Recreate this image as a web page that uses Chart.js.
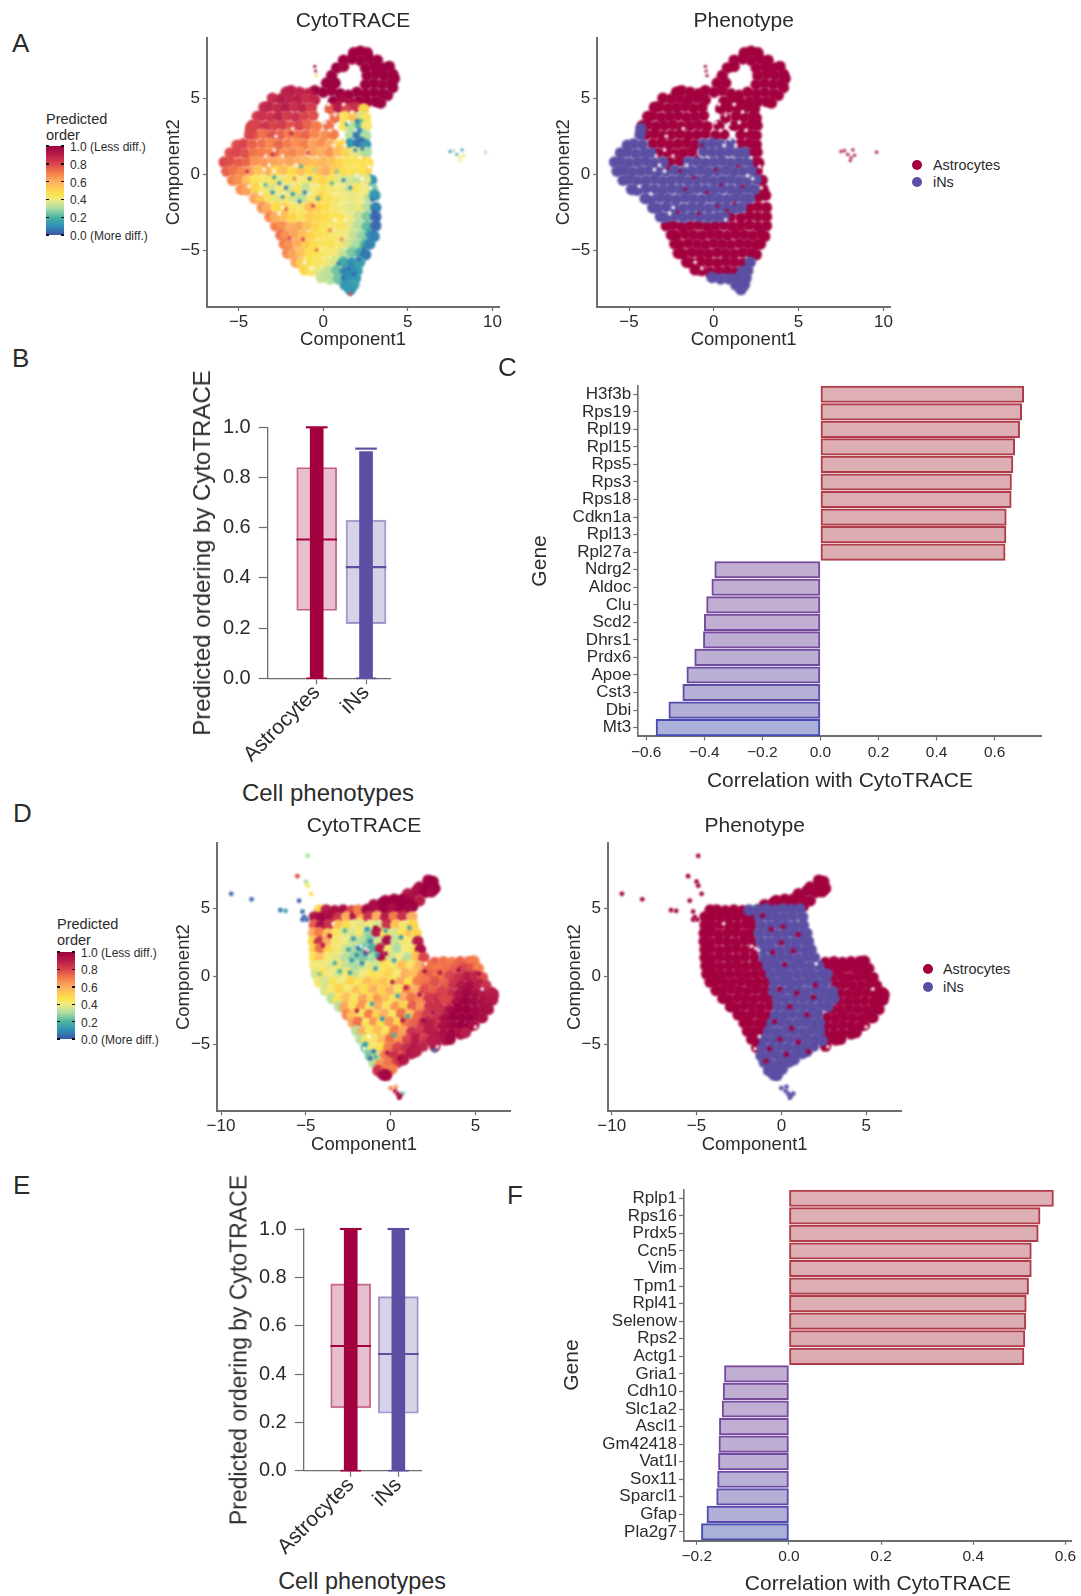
<!DOCTYPE html>
<html lang="en">
<head>
<meta charset="UTF-8" />
<title>CytoTRACE panels</title>
<script src="https://cdn.jsdelivr.net/npm/chart.js"></script>
<style>
  html, body { margin: 0; background: #fff; }
  #page { position: relative; width: 1081px; height: 1596px; overflow: hidden; font-family: "Liberation Sans", Arial, sans-serif; color: #2b2b2b; }
  #page canvas { position: absolute; filter: blur(0.45px); }
  .txt { position: absolute; white-space: nowrap; line-height: 1; }
  .bar { position: absolute; width: 18px; background: linear-gradient(to top, #3f55a8 0%, #2f8fb5 10%, #4cb3a0 20%, #abdda4 30%, #f2ea80 40%, #fde04a 47%, #fdae61 60%, #f57d4a 70%, #d9444d 80%, #b81d4a 90%, #9e0142 100%); }
  .dash { position: absolute; width: 3px; height: 1.5px; background: #111; }
  .dot { position: absolute; width: 10px; height: 10px; border-radius: 50%; }
</style>
</head>
<body>
<div id="page"></div>
<script>
// ---- data ----
const phenotypes = ["Astrocytes", "iNs"];
const legendOrderTicks = ["1.0 (Less diff.)", "0.8", "0.6", "0.4", "0.2", "0.0 (More diff.)"];
const umapTicksA_x = [-5, 0, 5, 10];
const umapTicksD_x = [-10, -5, 0, 5];
const umapTicks_y = [-5, 0, 5];
const boxTicks_y = [0, 0.2, 0.4, 0.6, 0.8, 1];
const corrTicksC = [-0.6, -0.4, -0.2, 0, 0.2, 0.4, 0.6];
const corrTicksF = [-0.2, 0, 0.2, 0.4, 0.6];

// panel B / E boxes: [Astrocytes, iNs]
const boxB_q1 = [0.27, 0.218];
const boxB_median = [0.553, 0.443];
const boxB_q3 = [0.84, 0.63];
const boxB_top = [1, 0.915];
const boxE_q1 = [0.26, 0.238];
const boxE_median = [0.516, 0.483];
const boxE_q3 = [0.773, 0.72];
const boxE_top = [1, 1];

// panel C / F genes
const genesC = ["H3f3b","Rps19","Rpl19","Rpl15","Rps5","Rps3","Rps18","Cdkn1a","Rpl13","Rpl27a","Ndrg2","Aldoc","Clu","Scd2","Dhrs1","Prdx6","Apoe","Cst3","Dbi","Mt3"];
const corrC = [0.70,0.693,0.686,0.669,0.663,0.658,0.657,0.64,0.639,0.636,-0.364,-0.374,-0.392,-0.40,-0.403,-0.433,-0.46,-0.474,-0.522,-0.566];
const genesF = ["Rplp1","Rps16","Prdx5","Ccn5","Vim","Tpm1","Rpl41","Selenow","Rps2","Actg1","Gria1","Cdh10","Slc1a2","Ascl1","Gm42418","Vat1l","Sox11","Sparcl1","Gfap","Pla2g7"];
const corrF = [0.574,0.545,0.541,0.526,0.526,0.52,0.515,0.514,0.512,0.51,-0.14,-0.143,-0.145,-0.151,-0.152,-0.153,-0.155,-0.157,-0.178,-0.19];

// cells as [component1, component2, predicted order], thinned by eye from the dense clouds
const cellsA_astro = [
[1.8,8,1],[2.2,8.1,1],[2.6,8,1],[1.2,7.5,1],[1.7,7.6,1],[2.2,7.5,1],[2.7,7.6,1],[3.2,7.5,1],[.8,7,1],[1.2,7.1,.98],[2.5,7,1],[3,7.1,1],[3.5,7,1],[3.9,7.1,1],
[.5,6.5,1],[2.6,6.5,1],[3.1,6.6,1],[3.6,6.5,1],[4.1,6.6,1],[4.2,6.3,1],[.2,6,1],[.7,6,1],[2.5,5.9,1],[3,6,1],[3.5,5.9,1],[4,6,1],[4.1,5.7,1],
[-.5,5.5,.98],[0,5.4,1],[.5,5.5,1],[1,5.3,1],[1.5,5.2,1],[2,5.4,1],[2.5,5.3,1],[3,5.4,1],[3.5,5.3,1],[3.8,5.2,1],
[-2.2,5.4,.88],[-1.9,5.5,.9],[-1.4,5.4,.88],[-.9,5.3,.9],
[-3,5,.86],[-2.5,4.95,.9],[-2,5,.88],[-1.5,4.9,.9],[-1,5,.85],[-.5,4.9,.88],[.6,4.8,1],[1.1,4.9,.97],[1.6,4.7,.95],[2.1,4.8,1],[2.6,4.8,1],[3.1,4.8,1],[3.4,4.7,1],
[-3.5,4.4,.85],[-3.2,4.45,.88],[-2.7,4.35,.86],[-2.2,4.4,.9],[-1.7,4.45,.85],[-1.2,4.35,.88],[-.7,4.4,.82],[.4,4.3,.75],[.9,4.4,.9],[1.4,4.3,.8],[1.9,4.4,.85],[2.4,4.3,.5],
[-3.9,3.8,.82],[-3.6,3.85,.85],[-3.1,3.75,.84],[-2.6,3.8,.88],[-2.1,3.85,.82],[-1.6,3.75,.85],[-1.1,3.8,.8],[-.6,3.85,.78],[.7,3.7,.72],[1.3,3.8,.45],[1.8,3.75,.55],[2.3,3.8,.35],[2.5,3.7,.45],
[-4.2,3.2,.82],[-3.9,3.25,.8],[-3.4,3.15,.84],[-2.9,3.2,.8],[-2.4,3.25,.82],[-1.9,3.15,.78],[-1.4,3.2,.8],[-.9,3.25,.75],[-.4,3.15,.7],[.3,3.2,.72],[1.2,3.2,.45],[1.7,3.15,.32],[2.2,3.25,.2],[2.55,3.2,.42],
[-4,2.6,.75],[-3.5,2.65,.72],[-3,2.55,.78],[-2.5,2.6,.75],[-2,2.65,.7],[-1.5,2.55,.72],[-1,2.6,.74],[-.5,2.65,.68],[.1,2.55,.66],[.6,2.6,.7],[1.6,2.6,.32],[2.1,2.65,.08],[2.5,2.55,.3],
[-3.6,2,.72],[-3.1,2.05,.68],[-2.6,1.95,.74],[-2.1,2,.7],[-1.6,2.05,.66],[-1.1,1.95,.7],[1.6,2,.12],[2.1,2.05,.05],[2.5,1.95,.12],
[-3.3,1.4,.68],[-2.8,1.45,.72],[-2.3,1.35,.66],[-1.8,1.4,.68],[-1.3,1.45,.64],[2.2,1.4,.35],[2.55,1.45,.3],
[-2.6,.8,.6],[-2,.85,.62],[2.4,.8,.5],[2.65,.75,.45],[2.55,.2,.5],[2.85,-.4,.12],[2.9,-1,.25],
[2.6,-1.5,.32],[3.05,-1.4,.12],[2.1,-2.2,.42],[2.6,-2.15,.32],[3.1,-2.2,.08],
[1,-2.8,.45],[1.6,-2.85,.4],[2.1,-2.75,.34],[2.6,-2.8,.25],[3.1,-2.8,.04],
[-2.8,-3.4,.7],[-2.4,-3.35,.66],[-1.9,-3.45,.6],[-1.4,-3.4,.62],[-.9,-3.35,.55],[-.4,-3.45,.5],[.1,-3.4,.45],[.6,-3.35,.42],[1.1,-3.45,.45],[1.6,-3.4,.38],[2.1,-3.35,.32],[2.6,-3.45,.22],[3.1,-3.4,.04],
[-2.5,-4,.72],[-2.2,-4.05,.66],[-1.7,-3.95,.62],[-1.2,-4,.56],[-.7,-4.05,.5],[-.2,-3.95,.46],[.3,-4,.44],[.8,-4.05,.42],[1.3,-3.95,.4],[1.8,-4,.34],[2.3,-4.05,.28],[2.8,-3.95,.15],[3,-4.1,.08],
[-2.3,-4.6,.7],[-2,-4.65,.66],[-1.5,-4.55,.6],[-1,-4.6,.52],[-.5,-4.65,.48],[0,-4.55,.44],[.5,-4.6,.46],[1,-4.65,.42],[1.5,-4.55,.36],[2,-4.6,.3],[2.5,-4.65,.2],[2.75,-4.6,.08],
[-2.1,-5.2,.68],[-1.8,-5.25,.62],[-1.3,-5.15,.55],[-.8,-5.2,.48],[-.3,-5.25,.45],[.2,-5.15,.43],[.7,-5.2,.42],[1.2,-5.25,.34],[1.7,-5.15,.25],[2.2,-5.2,.18],[2.5,-5.3,.06],
[-1.6,-5.8,.62],[-1.3,-5.85,.52],[-.8,-5.75,.46],[-.3,-5.8,.44],[.2,-5.85,.42],[.7,-5.75,.36],[1.2,-5.8,.18],[1.7,-5.85,.1],
[-1.1,-6.3,.5],[-.7,-6.35,.44],[-.2,-6.45,.38],[.3,-6.4,.32],[.8,-6.35,.24],[1.3,-6.45,.08]
];
const cellsA_ins = [
[-4.3,3,.8],[-4.35,2.6,.8],[-5.1,1.9,.78],[-4.7,2,.8],[-4.2,1.95,.75],
[-.6,2,.62],[-.1,2.05,.66],[.4,1.95,.6],[1,2,.5],
[-5.5,1.4,.78],[-5.1,1.45,.8],[-4.6,1.35,.78],[-4.1,1.4,.72],[-3.7,1.4,.7],[-.6,1.5,.62],[-.1,1.45,.6],[.4,1.4,.65],[.9,1.5,.55],[1.4,1.4,.5],[1.8,1.45,.38],
[-5.85,.8,.8],[-5.5,.85,.78],[-5,.75,.76],[-4.5,.8,.74],[-4,.85,.65],[-3.5,.75,.64],[-3,.8,.62],[-1.5,.8,.6],[-1,.85,.58],[-.5,.75,.55],[0,.8,.58],[.5,.85,.55],[1,.75,.5],[1.5,.8,.45],[2,.85,.45],
[-5.7,.2,.75],[-5.3,.25,.72],[-4.8,.15,.68],[-4.3,.2,.62],[-3.8,.25,.55],[-3.3,.15,.6],[-2.8,.2,.5],[-2.3,.25,.55],[-1.8,.15,.48],[-1.3,.2,.55],[-.8,.25,.5],[-.3,.15,.55],[.2,.2,.6],[.7,.25,.52],[1.2,.15,.48],[1.7,.2,.45],[2.2,.25,.45],
[-5.35,-.4,.7],[-5,-.35,.66],[-4.5,-.45,.55],[-4,-.4,.45],[-3.5,-.35,.42],[-3,-.45,.44],[-2.5,-.4,.38],[-2,-.35,.44],[-1.5,-.45,.4],[-1,-.4,.42],[-.5,-.35,.45],[0,-.45,.5],[.5,-.4,.45],[1,-.35,.38],[1.5,-.45,.36],[2,-.4,.34],[2.5,-.35,.38],
[-4.85,-1,.66],[-4.5,-1.05,.62],[-4,-.95,.5],[-3.5,-1,.42],[-3,-1.05,.36],[-2.5,-.95,.4],[-2,-1,.36],[-1.5,-1.05,.45],[-1,-.95,.34],[-.5,-1,.4],[0,-1.05,.45],[.5,-.95,.42],[1,-1,.4],[1.5,-1.05,.36],[2,-.95,.45],[2.4,-1,.4],
[-4.05,-1.6,.62],[-3.7,-1.65,.55],[-3.2,-1.55,.44],[-2.7,-1.6,.38],[-2.2,-1.65,.42],[-1.7,-1.55,.36],[-1.2,-1.6,.32],[-.7,-1.65,.42],[-.2,-1.55,.5],[.3,-1.6,.45],[.8,-1.65,.42],[1.3,-1.55,.4],[1.8,-1.6,.38],[2.1,-1.6,.4],
[-3.6,-2.2,.66],[-3.3,-2.25,.6],[-2.8,-2.15,.48],[-2.3,-2.2,.5],[-1.8,-2.25,.44],[-1.3,-2.15,.42],[-.8,-2.2,.55],[-.3,-2.25,.5],[.2,-2.15,.48],[.7,-2.2,.42],[1.2,-2.25,.4],[1.6,-2.2,.38],
[-3.15,-2.8,.68],[-2.8,-2.85,.6],[-2.3,-2.75,.55],[-1.8,-2.85,.5],[-1.3,-2.75,.45],[-.8,-2.8,.52],[-.3,-2.85,.5],[.2,-2.8,.48],[.6,-2.8,.45],
[-.1,-6.8,.34],[.4,-6.9,.32],[.9,-6.9,.24],[1.4,-6.85,.1],[1.9,-6.85,.12],[2.15,-5.8,.14],[2,-6.35,.14],[1.7,-6.4,.1],[1.3,-7.3,.12],[1.8,-7.3,.15],[1.6,-7.6,.12]
];
const outliersA = [[7.5,1.5,.1],[7.7,1.55,.3],[7.9,1.3,.2],[8.1,1.1,.45],[8.2,1.6,.15],[8.3,1.25,.5],[8.05,.9,.4],[9.6,1.45,.3],[-.5,7.1,1],[-.45,6.8,1],[-.4,6.5,.5]];
const specksA = [[-2.3,.8],[-1,1.2],[-.4,-1.2],[.4,-.7],[1.2,-1.9],[.8,-2.4],[-2,.2],[-1.2,-.2],[.1,.3],[1.4,.5],[-1.7,-1],[-.9,-2.6],[.2,-2.1],[1.7,-.8],[-2.7,.4],[-1.5,1.6],[-.7,1.9],[-2.1,-2.5]];
// fine coloured flecks on top of the CytoTRACE clouds
const flecksA = [[-2.2,-.9,.04],[-1.8,-1.3,.08],[-1.1,-1.2,.05],[-.8,-.3,.05],[-2.6,-.6,.1],[-1.4,-1.8,.06],[-3,-1.2,.1],[-.3,-1.6,.15],[-3.4,-.7,.2],[-1.7,-.3,.7],[-.6,-2.1,.8],[-2.2,-2.3,.75],[.5,-.6,.2],[1.2,-.4,.08],[1.6,-.9,.1],[1.9,1.6,.08],[2.3,2.3,.02],[1.9,2.5,.05],[2.3,1.7,.03],[1.4,3.3,.1],[2,3.5,.05],[1.5,-6.2,.03],[1.8,-6.6,.03],[1.2,-6.8,.04],[.9,-5.9,.05],[2.1,-5.6,.04],[2.4,-4.9,.03],[3,-2.5,.02],[3.2,-3,.02],[3,-3.7,.03],[2.9,-1.7,.03],[-1.2,-4.3,.8],[-2,-4.2,.78],[-.4,-5,.72],[.4,-3.7,.7],[1.1,-4.3,.68],[-3,1.3,.85],[-4.5,.2,.88],[-1.9,2.7,.88],[-.9,1.4,.8],[1.6,-7.9,.8],[-2.9,-.2,.15],[-2.4,-1.5,.12],[-1.3,.5,.2],[-.5,.3,.3],[.8,.2,.25]];
const gapsA = [[0,4.7],[-.1,4.3],[.2,3.9],[-.2,3.6],[.9,3.3],[.4,2.9],[1.1,2.7],[.95,2.3],[1.3,1.9],[-2.9,1.6],[-3.4,1.2],[-3.2,.6],[-3.5,.3],[-2.9,.2],[-2.4,1.2],[-4.4,-.8],[-3.7,-1.3],[-2.4,-2.2],[-2.6,-2.6],[-1.6,.6],[2.3,-.3],[2.8,-.9],[2.7,.5],[2,-.1],[-1.8,3],[-2.8,2.5],[-1.1,-5.8],[-.7,-6.2],[.7,-3],[1.5,3.4],[1.9,2.9],[.7,3.9],[.3,4.6],[.6,1.9],[1.7,4.1],[2.2,1.1],[1.2,4.6],[.1,3.4]];

const cellsD_astro = [
[2.2,7.1,.98],[2.5,7,1],[1.7,6.6,.95],[2.2,6.75,1],[2.6,6.5,1],[1,6.1,.9],[1.5,6.3,.95],[2,6.2,1],[2.4,6.25,.98],[-.3,5.6,.95],[.2,5.7,1],[.7,5.7,1],[1.2,5.75,.95],[1.7,5.6,.9],[-1,5.3,.95],[-.5,5.4,1],[0,5.35,1],[.5,5.4,1],[1,5.35,1],[1.3,5.2,1],
[-4.2,4.9,.5],[-3.8,4.9,.9],[-3.3,4.85,.95],[-2.8,4.9,.95],[-2.3,4.85,.8],
[-4.5,4.4,.92],[-4.1,4.35,.98],[-3.6,4.45,.95],[-3.1,4.35,.85],[-2.6,4.4,.6],[-2.1,4.45,.92],[-1.7,4.35,.55],
[-4.5,3.8,.75],[-4.1,3.75,.95],[-3.6,3.85,.85],[-3.1,3.8,.55],[-2.6,3.75,.48],[-2.1,3.85,.4],[-1.7,3.8,.38],
[-4.55,3.2,.6],[-4.2,3.25,.7],[-3.7,3.15,.55],[-3.2,3.2,.45],[-2.7,3.25,.38],[-2.2,3.15,.36],[-1.8,3.2,.42],
[-4.55,2.6,.5],[-4.2,2.55,.85],[-3.7,2.65,.6],[-3.2,2.6,.42],[-2.7,2.55,.4],[-2.2,2.65,.34],[-1.7,2.6,.32],
[-4.5,2,.5],[-4.15,2.05,.72],[-3.65,1.95,.5],[-3.15,2,.42],[-2.65,2.05,.36],[-2.15,1.95,.3],[-1.6,2,.22],
[-4.5,1.4,.45],[-4.15,1.35,.55],[-3.65,1.45,.42],[-3.15,1.4,.38],[-2.65,1.35,.32],[-2.15,1.45,.28],[-1.6,1.4,.25],
[-4.45,.8,.42],[-4.1,.85,.4],[-3.6,.75,.38],[-3.1,.8,.42],[-2.6,.85,.34],[-2.1,.75,.3],[-1.6,.8,.32],[-1.2,.85,.38],
[-4.4,.2,.36],[-4.05,.25,.45],[-3.55,.15,.4],[-3.05,.2,.36],[-2.55,.25,.42],[-2.05,.15,.34],[-1.55,.2,.4],[-1.05,.25,.45],
[-4.2,-.4,.42],[-3.85,-.35,.36],[-3.35,-.45,.45],[-2.85,-.4,.4],[-2.35,-.35,.5],[-1.85,-.45,.44],[-1.35,-.4,.55],[-.85,-.35,.5],
[-3.85,-1,.36],[-3.5,-1.05,.42],[-3,-.95,.5],[-2.5,-1,.42],[-2,-1.05,.55],[-1.5,-.95,.46],[-1,-1,.6],
[-3.45,-1.6,.32],[-3.1,-1.65,.45],[-2.6,-1.55,.55],[-2.1,-1.6,.44],[-1.6,-1.65,.62],[-1.1,-1.55,.5],[-.7,-1.6,.65],
[-3,-2.2,.32],[-2.7,-2.25,.62],[-2.2,-2.15,.46],[-1.7,-2.2,.65],[-1.2,-2.25,.44],[-.7,-2.15,.6],
[-2.55,-2.8,.68],[-2.25,-2.85,.55],[-1.75,-2.75,.44],[-1.25,-2.8,.7],[-.8,-2.85,.5],
[-2.2,-3.4,.62],[-1.9,-3.35,.72],[-1.4,-3.45,.44],[-.95,-3.4,.65],
[-2,-4,.32],[-1.65,-4.05,.6],[-1.2,-3.95,.44],[-1.75,-4.6,.32],[-1.4,-4.65,.44],[-1.45,-5.2,.24],
[2.6,1.05,.75],[3.1,1.1,.72],[3.6,1.05,.7],[4.1,1.1,.75],[4.6,1.1,.72],[4.9,1.15,.7],
[2.8,.6,.7],[3.3,.55,.72],[3.8,.65,.75],[4.3,.6,.8],[4.8,.55,.78],[5.15,.6,.7],
[3,0,.72],[3.5,.05,.8],[4,-.05,.85],[4.5,0,.9],[5,.05,.88],[5.4,-.05,.78],
[3.2,-.6,.75],[3.7,-.55,.85],[4.2,-.65,.92],[4.7,-.6,.95],[5.2,-.55,.9],[5.6,-.65,.85],
[3.5,-1.2,.85],[4,-1.25,.92],[4.5,-1.15,.98],[5,-1.2,.95],[5.5,-1.25,.92],[5.9,-1.15,.88],[6.05,-1.3,.9],
[3.4,-1.8,.8],[3.9,-1.85,.95],[4.4,-1.75,1],[4.9,-1.8,.98],[5.4,-1.85,.95],[5.8,-1.75,.92],[6,-1.7,.92],
[3,-2.4,.85],[3.5,-2.45,.95],[4,-2.35,1],[4.5,-2.4,1],[5,-2.45,.98],[5.5,-2.35,.95],[5.75,-2.4,.95],
[2.7,-3,.85],[3.2,-3.05,.95],[3.7,-2.95,1],[4.2,-3,1],[4.7,-3.05,1],[5.2,-2.95,.98],[5.4,-3,.95],
[2.6,-3.6,.85],[3.1,-3.65,.95],[3.6,-3.55,.98],[4.1,-3.6,1],[4.6,-3.65,1],[4.9,-3.55,.95],
[2.6,-4.2,.9],[3.1,-4.25,.95],[3.6,-4.15,.98],[4.1,-4.2,.95],[4.4,-4.1,.9],
[2.7,-4.7,.9],[3.2,-4.65,.92],[3.5,-4.6,.98],[2.6,-5.1,.92]
];
const cellsD_ins = [
[-1.9,4.9,.7],[-1.4,4.95,.98],[-.9,5,.95],[-.4,4.9,1],[.1,5,.95],[.6,4.95,1],[1.1,5,.98],
[-1.3,4.4,.85],[-.8,4.45,.6],[-.3,4.35,.9],[.2,4.4,.7],[.7,4.45,.85],[1.25,4.4,.6],
[-1.2,3.8,.4],[-.7,3.75,.36],[-.2,3.85,.85],[.3,3.8,.55],[.8,3.75,.42],[1.3,3.8,.5],
[-1.3,3.2,.28],[-.8,3.25,.9],[-.3,3.15,.45],[.2,3.2,.36],[.7,3.25,.45],[1.2,3.15,.55],[1.5,3.2,.5],
[-1.2,2.6,.25],[-.7,2.55,.36],[-.2,2.65,.95],[.3,2.6,.34],[.8,2.55,.42],[1.3,2.65,.42],[1.6,2.6,.9],
[-1.1,2,.2],[-.6,2.05,.9],[-.1,1.95,.42],[.4,2,.3],[.9,2.05,.4],[1.4,1.95,.45],[1.75,2,.95],
[-1,1.4,.3],[-.5,1.35,.95],[0,1.45,.36],[.5,1.4,.4],[1,1.35,.32],[1.5,1.45,.55],[1.95,1.4,.8],
[-.8,.8,.36],[-.3,.85,.45],[.2,.75,.42],[.7,.8,.55],[1.2,.85,.44],[1.7,.75,.6],[2.2,.8,.72],
[-.6,.2,.44],[-.1,.25,.5],[.4,.15,.42],[.9,.2,.6],[1.4,.25,.55],[1.9,.15,.7],[2.4,.2,.75],[2.7,.2,.72],
[-.4,-.4,.55],[.1,-.35,.45],[.6,-.45,.62],[1.1,-.4,.48],[1.6,-.35,.7],[2.1,-.45,.72],[2.6,-.4,.78],
[-.5,-1,.5],[0,-1.05,.6],[.5,-.95,.44],[1,-1,.68],[1.5,-1.05,.6],[2,-.95,.78],[2.5,-1,.75],[3,-1.05,.8],
[-.25,-1.6,.55],[.25,-1.65,.45],[.75,-1.55,.6],[1.25,-1.6,.72],[1.75,-1.65,.68],[2.25,-1.55,.82],[2.75,-1.6,.85],[3.1,-1.6,.8],
[-.2,-2.2,.44],[.3,-2.25,.65],[.8,-2.15,.5],[1.3,-2.2,.75],[1.8,-2.25,.65],[2.3,-2.15,.85],[2.75,-2.2,.85],
[-.35,-2.8,.6],[.15,-2.85,.44],[.65,-2.75,.72],[1.15,-2.8,.55],[1.65,-2.85,.75],[2.15,-2.75,.82],
[-.55,-3.4,.46],[-.05,-3.35,.65],[.45,-3.45,.5],[.95,-3.4,.72],[1.45,-3.35,.75],[1.95,-3.45,.85],[2.25,-3.4,.9],
[-.75,-4,.55],[-.25,-4.05,.44],[.25,-3.95,.7],[.75,-4,.62],[1.25,-4.05,.85],[1.75,-3.95,.82],[2.25,-4,.9],
[-1,-4.6,.42],[-.5,-4.65,.55],[0,-4.55,.72],[.5,-4.6,.65],[1,-4.65,.8],[1.5,-4.55,.9],[2,-4.6,.82],[2.4,-4.7,.9],
[-1.1,-5.2,.42],[-.6,-5.25,.46],[-.1,-5.15,.7],[.4,-5.2,.8],[.9,-5.25,.85],[1.4,-5.15,.92],[1.9,-5.1,.88],
[-1.2,-5.8,.25],[-.8,-5.85,.36],[-.3,-5.75,.7],[.2,-5.8,.85],[.7,-5.85,.8],[1.2,-5.65,.92],[1.5,-5.5,.9],
[-1,-6.3,.32],[-.6,-6.45,.65],[-.1,-6.35,.72],[.4,-6.3,.82],[.75,-6.1,.92],
[-.75,-6.9,.85],[-.35,-7,.72],[.05,-6.8,.7],[-.45,-7.2,.95],[-.25,-7.25,.98]
];
const outliersD_astro = [[-9.4,6.1,.03],[-8.2,5.7,.03],[-6.5,4.9,.05],[-6.2,4.85,.15],[-5.4,5.6,.02],[-5.2,4.8,.03],[-5.5,7.4,.78],[-5,7,.3],[-4.9,6.7,.45],[-4.7,6.1,.47],[-4.9,8.9,.3],[-5.1,4.4,.02],[-4.95,4.2,.02],[-5.2,4.2,.02]];
const outliersD_ins = [[0,-8.2,.68],[.3,-8.1,.62],[.4,-8.6,.95],[.5,-8.9,1],[.7,-8.6,.25],[.25,-8.4,.9],[.55,-8.75,.98]];
const specksD = [[-.6,3.5],[0,2.5],[.7,1.9],[-.5,1.8],[.2,.9],[-.1,-.9],[.9,-1.2],[1.9,-1.5],[.5,-2.2],[1.5,-2.8],[-.4,-3.3],[.6,-3.8],[-.1,-4.6],[1,-4.8],[-.7,-5.3],[.3,-5.7],[1.6,-5.5],[-.9,-6.2],[2,-.6],[-.9,-.9],[.1,3.7],[1,3.1],[-1.1,4.5]];
const flecksD = [[-1.9,2.1,.03],[-2.3,1.2,.12],[-1.5,1.7,.05],[-1.2,2.6,.06],[-2.7,3.4,.2],[-.3,3.4,.15],[.6,2.9,.12],[1.1,3.6,.18],[-.9,.6,.15],[-2.4,.3,.15],[-3.3,1,.2],[-4.2,.2,.25],[-1.1,-2,.15],[-.5,-3.1,.1],[.4,-1.4,.15],[1,-2.9,.15],[.2,-4.3,.2],[-1,-5.5,.05],[-1.2,-6,.04],[-.9,-5.9,.2],[-1.5,-5,.12],[2.6,-5.4,.05],[.1,-.4,.9],[.9,-.8,.9],[-.3,1.7,.95],[-.9,3.6,.98],[-1.4,1.9,.95],[-3.6,3,.95],[-4,2.3,.9],[-2,-2.5,.9],[1.7,-1.3,.95],[1.9,-3.2,.98],[.7,-3.2,.92],[-.2,-5.6,.95],[.5,-6,.98],[2,.4,.95],[2.5,-2.6,.98],[2.9,.3,.9],[4,.5,.95],[5.2,.2,.95],[-2,1.6,.1],[-1.7,1,.08],[-2.5,2,.15],[-.8,1.6,.12],[.2,1.2,.15],[-1.4,3.5,.1],[-2.2,2.8,.12],[-3,.4,.2]];
const gapsD = [[-1.75,2.25],[-1.5,2.1],[-1.35,1.95],[2.05,.95],[-1.55,-5.3],[-1.3,-4.4],[5,-3.7],[2.75,-5.15],[5.4,-.9],[-3.4,3.9]];

// ---- colours ----
const CRIMSON = "#a3003f";
const PURPLE = "#5c4fa3";
const AXIS = "#6e6e6e";
const TEXT = "#2b2b2b";
const orderStops = [[0,[63,85,168]],[.1,[47,143,181]],[.2,[76,179,160]],[.3,[171,221,164]],[.4,[242,234,128]],[.47,[253,224,74]],[.6,[253,174,97]],[.7,[245,125,74]],[.8,[217,68,77]],[.9,[184,29,74]],[1,[158,1,66]]];

function orderColor(v) {
  for (let i = 1; i < orderStops.length; i++) {
    if (v <= orderStops[i][0]) {
      const [a, ca] = orderStops[i - 1];
      const [b, cb] = orderStops[i];
      const t = (v - a) / (b - a);
      return `rgb(${ca.map((c, k) => Math.round(c + (cb[k] - c) * t)).join(",")})`;
    }
  }
  return "rgb(158,1,66)";
}
function mix(c1, c2, t) {
  return `rgb(${c1.map((c, k) => Math.round(c + (c2[k] - c) * t)).join(",")})`;
}
const minus = (s) => String(s).replace("-", "\u2212");

// ---- layout helpers ----
Chart.defaults.font.family = '"Liberation Sans", Arial, sans-serif';
Chart.defaults.color = TEXT;
Chart.defaults.animation = false;
const page = document.getElementById("page");

function addText(text, x, y, size, opts = {}) {
  const el = document.createElement("div");
  el.className = "txt";
  el.textContent = text;
  el.style.left = x + "px";
  el.style.top = y + "px";
  el.style.fontSize = size + "px";
  if (opts.rotate) el.style.transform = `translate(-50%,-50%) rotate(${opts.rotate}deg)`;
  else if (opts.center) el.style.transform = "translate(-50%,-50%)";
  else el.style.transform = "translateY(-50%)";
  page.appendChild(el);
}

// g: plot box + where the surrounding canvas ends, so the axes land where the figure has them
function makeChart(g, config) {
  const c = document.createElement("canvas");
  const W = g.right - g.left, H = g.bottom - g.top;
  c.width = W; c.height = H;
  c.style.left = g.left + "px"; c.style.top = g.top + "px";
  page.appendChild(c);
  config.options.responsive = false;
  config.options.maintainAspectRatio = false;
  config.options.layout = { padding: { right: g.right - g.plotR, top: g.title ? 0 : g.plotT - g.top } };
  config.options.plugins = config.options.plugins || {};
  config.options.plugins.legend = { display: false };
  config.options.plugins.tooltip = { enabled: false };
  if (g.title) {
    config.options.plugins.title = { display: true, text: g.title, fullSize: false, color: TEXT, font: { size: 21, weight: "normal", lineHeight: 1.2 }, padding: { top: 0, bottom: g.plotT - g.top - 25.2 } };
  }
  const { x, y } = config.options.scales;
  x.afterFit = (s) => { s.height = g.bottom - g.plotB; s.paddingLeft = 0; s.paddingRight = 0; };
  y.afterFit = (s) => { s.width = g.plotL - g.left; s.paddingTop = 0; s.paddingBottom = 0; };
  return new Chart(c, config);
}

function axisCommon(ticks, size, tickLen, pad, fmt) {
  return {
    type: "linear",
    border: { color: AXIS, width: 2 },
    grid: { display: true, drawOnChartArea: false, drawTicks: true, tickLength: tickLen, tickColor: AXIS, tickWidth: 1.2, offset: false },
    ticks: { font: { size }, color: TEXT, padding: pad, autoSkip: false, maxRotation: 0, minRotation: 0, callback: fmt },
    afterBuildTicks: (s) => { s.ticks = ticks.map((v) => ({ value: v })); },
  };
}

// the source clouds are thousands of tiny overlapping dots, soften the thinned ones so they read the same
const softCloud = {
  id: "softCloud",
  beforeDatasetsDraw(chart) { chart.ctx.filter = "blur(1px)"; },
  afterDatasetsDraw(chart) { chart.ctx.filter = "none"; },
};

function umapChart(g, xRange, yRange, xTicks, datasets) {
  datasets.forEach((d, i) => { d.order = -i; d.borderWidth = 0; d.pointBorderWidth = 0; d.pointHoverRadius = d.pointRadius; });
  makeChart(g, {
    type: "scatter",
    data: { datasets },
    plugins: [softCloud],
    options: {
      scales: {
        x: { ...axisCommon(xTicks, 17, 4, 1, (v) => minus(v)), min: xRange[0], max: xRange[1], title: { display: true, text: "Component1", font: { size: 18.5, lineHeight: 1.2 }, color: TEXT, padding: 0 } },
        y: { ...axisCommon(umapTicks_y, 17, 4, 3, (v) => minus(v)), min: yRange[0], max: yRange[1], title: { display: true, text: "Component2", font: { size: 18.5, lineHeight: 1.2 }, color: TEXT, padding: 0 } },
      },
    },
  });
}
const pts = (list) => list.map((p) => ({ x: p[0], y: p[1] }));
const orderSet = (list, r) => ({ data: pts(list), pointBackgroundColor: list.map((p) => orderColor(p[2])), pointRadius: r });
const flatSet = (list, col, r) => ({ data: pts(list), pointBackgroundColor: col, pointRadius: r });

function boxChart(g, xRange, q1, med, q3, top) {
  const at = (vals) => vals.map((v, i) => ({ x: i + 1, y: v }));
  const colors = [CRIMSON, PURPLE];
  const fills = ["rgba(163,0,63,0.25)", "rgba(92,79,163,0.25)"];
  const datasets = [
    { data: at(q1.map((v, i) => [0, Math.min(top[i], 1) - (i === 1 && top[i] < 1 ? 0.012 : 0)])), backgroundColor: colors, barThickness: 13, order: 1, borderWidth: 0 },
    { data: at(top.map((v) => [v - 0.003, v + 0.003])), backgroundColor: colors, barThickness: 21, order: 0, borderWidth: 0 },
    { data: at(q1.map(() => [-0.002, 0.002])), backgroundColor: colors, barThickness: 20, order: 0, borderWidth: 0 },
    { data: at(med.map((v) => [v - 0.003, v + 0.003])), backgroundColor: colors, barThickness: 40, order: 2, borderWidth: 0 },
    { data: at(q1.map((v, i) => [v, q3[i]])), backgroundColor: fills, borderColor: fills.map((f) => f.replace("0.25", "0.55")), borderWidth: 1.2, borderSkipped: false, barThickness: 40, order: 3 },
  ];
  const xAxis = axisCommon([1, 2], 21, 6, -4, (v) => phenotypes[v - 1]);
  xAxis.ticks.minRotation = 45;
  xAxis.ticks.maxRotation = 45;
  makeChart(g, {
    type: "bar",
    data: { datasets },
    options: {
      clip: false,
      datasets: { bar: { grouped: false, clip: false } },
      scales: {
        x: { ...xAxis, min: xRange[0], max: xRange[1], offset: false, border: { color: AXIS, width: 1.3 } },
        y: { ...axisCommon(boxTicks_y, 20, 9, 8, (v) => v.toFixed(1)), min: 0, max: 1, border: { color: AXIS, width: 1.3 } },
      },
    },
  });
}

function corrChart(g, xRange, genes, values, xTicks) {
  const blueShift = (i) => Math.pow((i - 10) / 9, 3);
  const fills = values.map((v, i) => (v > 0 ? mix([222, 176, 181], [219, 172, 177], i / 9) : mix([193, 174, 211], [170, 176, 216], blueShift(i))));
  const borders = values.map((v, i) => (v > 0 ? "rgb(176,60,74)" : mix([122, 74, 158], [70, 76, 180], blueShift(i))));
  makeChart(g, {
    type: "bar",
    data: { labels: genes, datasets: [{ data: values, backgroundColor: fills, borderColor: borders, borderWidth: 2, borderSkipped: false, barThickness: 16.5 }] },
    options: {
      indexAxis: "y",
      scales: {
        x: { ...axisCommon(xTicks, 15.5, 4, 3, (v) => minus(v.toFixed(1))), min: xRange[0], max: xRange[1], title: { display: true, text: "Correlation with CytoTRACE", font: { size: 21, lineHeight: 1.2 }, color: TEXT, padding: 0 } },
        y: { type: "category", offset: true, border: { color: AXIS, width: 1.6 },
             grid: { display: true, drawOnChartArea: false, drawTicks: true, tickLength: 5, tickColor: AXIS, tickWidth: 1.2, offset: false },
             ticks: { font: { size: 17 }, color: TEXT, padding: 2, autoSkip: false },
             title: { display: true, text: "Gene", font: { size: 21, lineHeight: 1.2 }, color: TEXT, padding: 0 } },
      },
    },
  });
}

function colorLegend(left, top, height, titleY) {
  addText("Predicted", left, titleY, 14.5);
  addText("order", left, titleY + 15.5, 14.5);
  const bar = document.createElement("div");
  bar.className = "bar";
  bar.style.left = left + "px"; bar.style.top = top + "px"; bar.style.height = height + "px";
  page.appendChild(bar);
  legendOrderTicks.forEach((lab, i) => {
    const y = top + (height * i) / (legendOrderTicks.length - 1);
    addText(lab, left + 24, y + 1, 12);
    [0, 15].forEach((dx) => {
      const d = document.createElement("div");
      d.className = "dash";
      d.style.left = left + dx + "px"; d.style.top = y - 0.7 + "px";
      page.appendChild(d);
    });
  });
}
function dotLegend(dotX, textX, y1, y2) {
  [[y1, CRIMSON], [y2, PURPLE]].forEach(([y, col], i) => {
    const d = document.createElement("div");
    d.className = "dot";
    d.style.left = dotX - 5 + "px"; d.style.top = y - 5 + "px"; d.style.background = col;
    page.appendChild(d);
    addText(phenotypes[i], textX, y, 14.4);
  });
}

const CLOUD_R = 5.8;

// ---- panel A ----
umapChart({ left: 163, right: 510, top: 9.4, bottom: 352, plotL: 207, plotR: 499, plotT: 38, plotB: 308, title: "CytoTRACE" },
  [-6.87, 10.39], [-8.75, 9], umapTicksA_x,
  [orderSet(cellsA_astro.concat(cellsA_ins), CLOUD_R), orderSet(flecksA, 2), flatSet(gapsA, "#fff", 1.8), orderSet(outliersA, 1.6)]);
umapChart({ left: 553, right: 902, top: 9.4, bottom: 352, plotL: 597.3, plotR: 890, plotT: 38, plotB: 308, title: "Phenotype" },
  [-6.87, 10.39], [-8.75, 9], umapTicksA_x,
  [flatSet(cellsA_astro, CRIMSON, CLOUD_R), flatSet(cellsA_ins, PURPLE, CLOUD_R), flatSet(specksA, CRIMSON, 1.8), flatSet(gapsA, "#fff", 1.8), flatSet(outliersA, CRIMSON, 1.6)]);
colorLegend(46, 146, 89, 119);
dotLegend(917, 933, 165, 182);

// ---- panel B ----
boxChart({ left: 210, right: 395, top: 415, bottom: 770, plotL: 267.7, plotR: 390, plotT: 427.3, plotB: 678.3 },
  [0.006, 2.486], boxB_q1, boxB_median, boxB_q3, boxB_top);
addText("Predicted ordering by CytoTRACE", 201.7, 553, 24, { rotate: -90 });
addText("Cell phenotypes", 328, 793, 24, { center: true });

// ---- panel C ----
corrChart({ left: 527.8, right: 1055, top: 380, bottom: 794.6, plotL: 638, plotR: 1041.7, plotT: 385.5, plotB: 737 },
  [-0.6275, 0.762], genesC, corrC, corrTicksC);

// ---- panel D ----
umapChart({ left: 173, right: 522, top: 814.4, bottom: 1157, plotL: 217.3, plotR: 510.7, plotT: 843.3, plotB: 1112.3, title: "CytoTRACE" },
  [-10.22, 7.07], [-9.9, 9.85], umapTicksD_x,
  [orderSet(cellsD_astro.concat(cellsD_ins), CLOUD_R), orderSet(flecksD, 2.4), flatSet(gapsD, "#fff", 1.8), orderSet(outliersD_astro.concat(outliersD_ins), 2.4)]);
umapChart({ left: 564, right: 912, top: 814.4, bottom: 1157, plotL: 608, plotR: 901.3, plotT: 843.3, plotB: 1112.3, title: "Phenotype" },
  [-10.22, 7.07], [-9.9, 9.85], umapTicksD_x,
  [flatSet(cellsD_astro, CRIMSON, CLOUD_R), flatSet(outliersD_astro, CRIMSON, 2.4), flatSet(cellsD_ins, PURPLE, CLOUD_R), flatSet(outliersD_ins, PURPLE, 2.4), flatSet(specksD, CRIMSON, 2.6), flatSet(gapsD, "#fff", 1.8)]);
colorLegend(57, 952, 87, 924);
dotLegend(928, 943, 969, 987);

// ---- panel E ----
boxChart({ left: 246, right: 427, top: 1217, bottom: 1560, plotL: 303.7, plotR: 421.7, plotT: 1229, plotB: 1470.7 },
  [0.013, 2.49], boxE_q1, boxE_median, boxE_q3, boxE_top);
addText("Predicted ordering by CytoTRACE", 239.3, 1350, 23, { rotate: -90 });
addText("Cell phenotypes", 362, 1581.7, 23.4, { center: true });

// ---- panel F ----
corrChart({ left: 560, right: 1081, top: 1183, bottom: 1597.6, plotL: 684, plotR: 1071.7, plotT: 1189.5, plotB: 1541.3 },
  [-0.2278, 0.6136], genesF, corrF, corrTicksF);

// panel letters
[["A", 12, 43], ["B", 12, 358], ["C", 498, 367], ["D", 13, 813], ["E", 13, 1185], ["F", 507, 1195]].forEach(([t, x, y]) => addText(t, x, y, 26));
</script>
</body>
</html>
